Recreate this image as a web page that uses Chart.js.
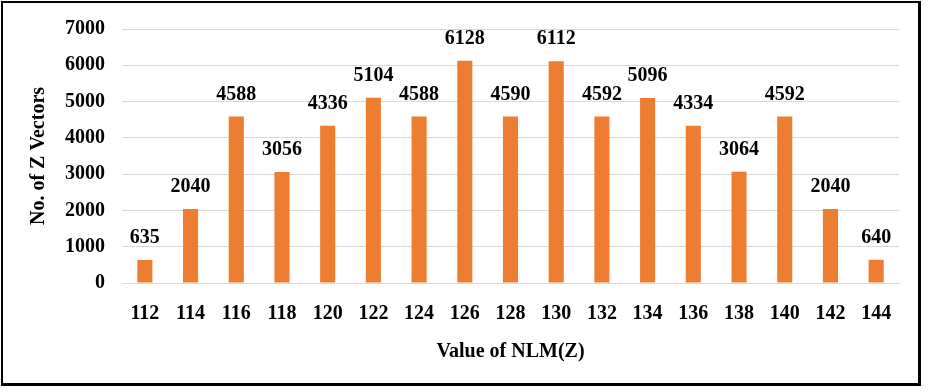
<!DOCTYPE html>
<html>
<head>
<meta charset="utf-8">
<script src="https://cdn.jsdelivr.net/npm/chart.js@4/dist/chart.umd.min.js"></script>
<style>
  html, body { margin: 0; padding: 0; background: #fff; }
  #wrap { position: relative; width: 928px; height: 392px; }
  #frame {
    position: absolute; left: 1px; top: 1px; width: 920px; height: 385px;
    box-sizing: border-box; border: 2px solid #000; border-right-width: 3px; border-bottom-width: 3px;
    pointer-events: none;
  }
  canvas { position: absolute; left: 0; top: 0; }
</style>
</head>
<body>
<div id="wrap">
  <canvas id="nlmChart" width="928" height="392"></canvas>
  <div id="frame"></div>
</div>
<script>
const nlmValues = ['112', '114', '116', '118', '120', '122', '124', '126', '128', '130', '132', '134', '136', '138', '140', '142', '144'];
const vectorCounts = [635, 2040, 4588, 3056, 4336, 5104, 4588, 6128, 4590, 6112, 4592, 5096, 4334, 3064, 4592, 2040, 640];
const yMin = 0;
const yMax = 7000;
const yStep = 1000;

const serif = '"Liberation Serif", "Times New Roman", serif';

// draws the value above each bar
const barLabels = {
  id: 'barLabels',
  afterDatasetsDraw(chart) {
    const ctx = chart.ctx;
    const meta = chart.getDatasetMeta(0);
    ctx.save();
    ctx.font = 'bold 20px ' + serif;
    ctx.fillStyle = '#000';
    ctx.textAlign = 'center';
    ctx.textBaseline = 'bottom';
    meta.data.forEach((bar, i) => {
      ctx.fillText(String(vectorCounts[i]), bar.x, bar.y - 12);
    });
    ctx.restore();
  }
};

const ctx = document.getElementById('nlmChart').getContext('2d');
new Chart(ctx, {
  type: 'bar',
  data: {
    labels: nlmValues,
    datasets: [{
      data: vectorCounts,
      backgroundColor: '#ED7D31',
      barPercentage: 1,
      categoryPercentage: 0.33
    }]
  },
  options: {
    responsive: false,
    animation: false,
    events: [],
    layout: { padding: { top: 24, right: 29, bottom: 0, left: 0 } },
    plugins: { legend: { display: false }, tooltip: { enabled: false } },
    scales: {
      x: {
        grid: { display: false, drawTicks: false },
        border: { display: true, color: '#d9d9d9', width: 1 },
        ticks: { color: '#000', font: { family: serif, size: 20, weight: 'bold' }, padding: 19, maxRotation: 0 },
        title: { display: true, text: 'Value of NLM(Z)', color: '#000', font: { family: serif, size: 20, weight: 'bold' }, padding: { top: 0, bottom: 28 } },
        afterFit(scale) { scale.height = 109; }
      },
      y: {
        min: yMin,
        max: yMax,
        grid: { color: '#d9d9d9', drawTicks: false },
        border: { display: false },
        ticks: { stepSize: yStep, color: '#000', font: { family: serif, size: 20, weight: 'bold' }, padding: 17, callback: v => String(v) },
        title: { display: true, text: 'No. of Z Vectors', color: '#000', font: { family: serif, size: 20, weight: 'bold' }, padding: { top: 27, bottom: 0 } },
        afterFit(scale) { scale.width = 122; }
      }
    }
  },
  plugins: [barLabels]
});
</script>
</body>
</html>
